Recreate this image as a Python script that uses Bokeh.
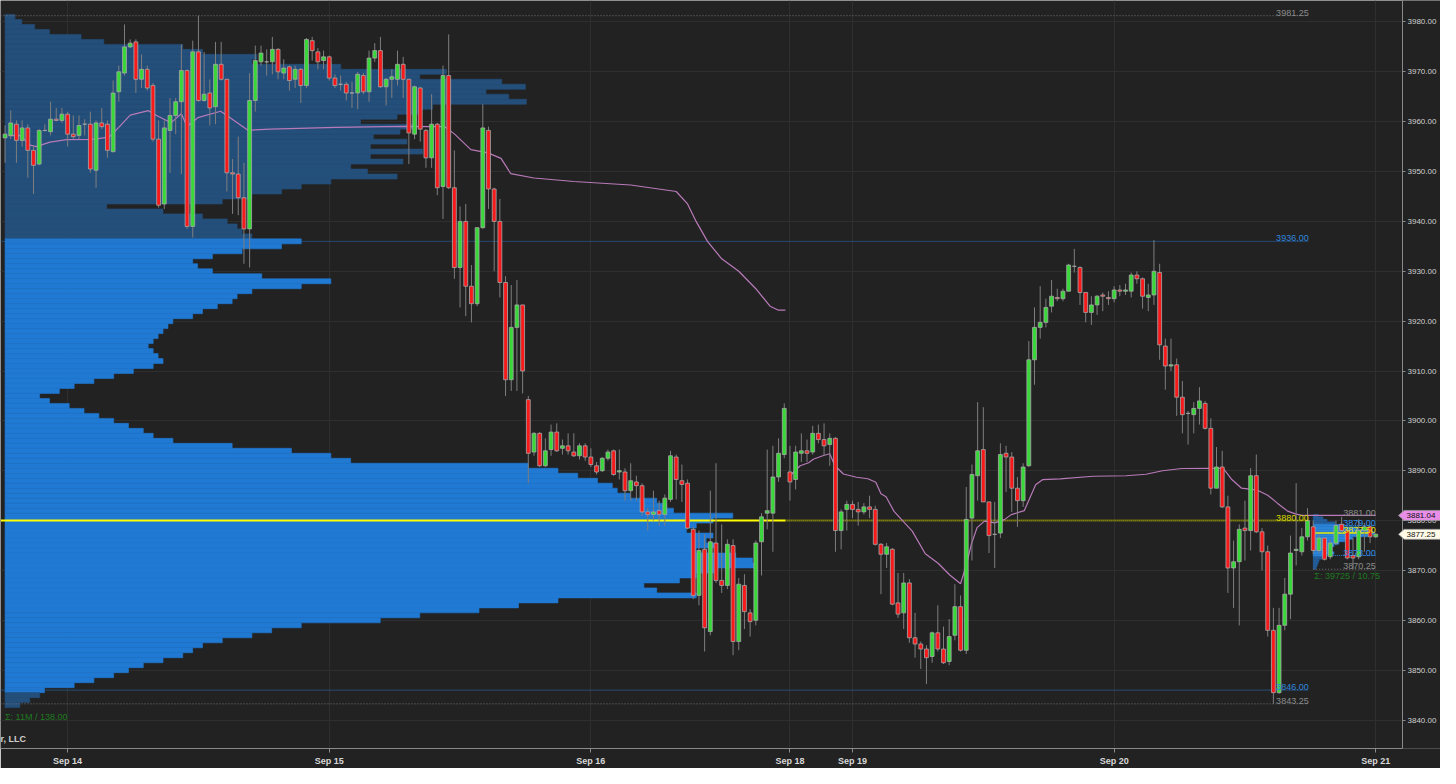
import numpy as np
from bokeh.plotting import figure
from bokeh.models import (ColumnDataSource, FixedTicker, SingleIntervalTicker,
                          NumeralTickFormatter, Range1d)
from bokeh.core.properties import value
from bokeh.embed import file_html
from bokeh.resources import INLINE

# ---------------- data (30-minute bars) ----------------
bar_open = [3956.75,3957.25,3959.5,3956.25,3958.75,3954.25,3951.5,3958.25,3958.0,3960.5,
 3960.25,3961.5,3957.5,3957.25,3959.5,3959.5,3950.25,3959.75,3959.5,3954.0,
 3966.0,3969.75,3975.0,3976.0,3968.5,3970.5,3967.25,3956.5,3943.5,3958.25,
 3961.25,3964.0,3970.25,3939.0,3974.0,3964.25,3965.75,3963.0,3971.5,3968.5,
 3949.75,3949.5,3944.75,3938.5,3964.25,3972.0,3972.0,3972.0,3974.5,3969.75,
 3971.0,3968.5,3970.5,3967.25,3976.25,3974.0,3972.25,3973.0,3968.75,3967.5,
 3967.5,3965.75,3965.75,3969.25,3966.0,3972.75,3974.25,3967.0,3968.5,3968.5,
 3971.5,3968.5,3957.5,3966.75,3958.25,3952.75,3959.5,3947.0,3969.25,3946.75,
 3930.75,3940.0,3927.0,3923.5,3938.75,3958.25,3946.5,3940.0,3927.75,3908.25,
 3918.75,3923.25,3904.25,3893.75,3897.5,3891.0,3894.25,3897.75,3894.5,3895.0,
 3893.75,3893.0,3895.0,3892.75,3891.0,3890.0,3892.5,3894.0,3889.75,3889.75,
 3886.0,3887.75,3887.0,3881.75,3881.25,3882.0,3881.25,3884.25,3892.75,3888.0,
 3887.5,3878.25,3865.0,3874.25,3857.75,3875.5,3868.0,3867.0,3875.0,3855.75,
 3867.0,3861.5,3860.0,3875.75,3881.5,3881.5,3888.75,3893.25,3889.75,3888.25,
 3893.5,3894.0,3893.75,3897.5,3896.25,3895.25,3896.5,3878.0,3882.25,3883.25,
 3882.25,3881.75,3882.75,3882.25,3875.25,3873.25,3874.25,3863.5,3861.5,3867.5,
 3856.5,3855.25,3854.25,3852.75,3857.5,3854.25,3851.75,3857.0,3862.75,3854.0,
 3880.5,3889.0,3894.25,3883.75,3877.25,3877.5,3893.5,3892.75,3886.5,3884.0,
 3891.0,3912.25,3918.75,3919.75,3923.0,3924.75,3924.5,3926.0,3931.0,3930.75,
 3925.75,3921.75,3923.25,3925.25,3924.75,3924.5,3926.25,3926.0,3926.0,3929.25,
 3928.5,3924.75,3925.25,3929.75,3915.0,3911.0,3911.25,3904.75,3901.5,3901.25,
 3902.5,3903.5,3898.5,3886.5,3890.75,3882.75,3870.5,3871.75,3878.5,3878.0,
 3889.0,3877.75,3873.75,3858.0,3845.5,3859.0,3865.25,3874.0,3873.75,3876.75,
 3878.75,3874.0,3876.5,3872.75,3875.5,3879.25,3878.0,3873.0,3872.75,3878.0,
 3878.75,3876.75]
bar_high = [3959.25,3962.25,3960.25,3960.25,3959.5,3955.25,3958.5,3959.5,3964.0,3962.75,
 3962.75,3962.0,3961.25,3961.25,3960.5,3962.0,3960.25,3962.75,3960.25,3968.25,
 3971.25,3979.5,3976.5,3976.5,3973.5,3971.25,3967.75,3960.25,3960.25,3964.75,
 3964.75,3975.5,3970.5,3976.25,3981.25,3974.0,3968.5,3976.0,3976.0,3968.5,
 3952.5,3957.0,3951.75,3969.75,3975.25,3975.25,3974.5,3977.0,3974.75,3972.5,
 3971.25,3971.25,3970.75,3976.75,3977.0,3974.75,3974.25,3973.25,3969.5,3969.25,
 3968.0,3968.0,3970.0,3969.75,3974.25,3975.75,3977.0,3968.75,3970.5,3974.25,
 3973.0,3968.5,3967.25,3967.0,3958.5,3965.5,3959.75,3971.25,3977.5,3954.25,
 3943.0,3943.5,3931.25,3938.75,3963.5,3959.0,3946.75,3944.5,3929.0,3927.25,
 3928.25,3923.25,3905.0,3897.75,3897.75,3896.5,3899.25,3899.5,3896.25,3897.5,
 3897.5,3895.5,3895.5,3894.5,3891.75,3892.75,3894.25,3894.25,3894.25,3890.5,
 3891.5,3889.0,3887.5,3882.5,3886.0,3884.0,3885.25,3894.0,3893.25,3891.25,
 3888.25,3878.75,3878.0,3877.25,3886.0,3891.5,3879.25,3876.25,3876.25,3868.5,
 3869.25,3862.25,3876.0,3881.5,3894.25,3895.0,3896.5,3903.5,3895.0,3895.0,
 3897.5,3896.25,3899.0,3899.25,3899.5,3897.5,3896.75,3882.25,3884.0,3884.0,
 3883.75,3883.5,3885.0,3883.0,3875.5,3875.5,3874.5,3869.5,3869.5,3868.25,
 3861.5,3855.75,3855.0,3857.75,3863.0,3858.75,3860.25,3867.25,3865.0,3886.75,
 3891.25,3903.75,3902.75,3883.75,3883.75,3895.5,3895.0,3893.75,3888.75,3891.5,
 3916.0,3922.75,3927.0,3924.5,3928.25,3926.5,3926.5,3931.5,3934.5,3931.0,
 3925.75,3925.0,3925.25,3925.75,3926.0,3927.0,3927.25,3927.5,3929.75,3930.0,
 3928.75,3927.5,3936.25,3931.5,3916.5,3916.5,3912.5,3908.0,3902.0,3903.75,
 3906.75,3904.0,3900.5,3894.75,3894.0,3885.0,3876.0,3879.25,3884.0,3890.5,
 3893.25,3878.5,3875.0,3862.5,3862.5,3868.5,3877.0,3887.5,3878.5,3882.5,
 3880.0,3877.25,3876.5,3876.25,3880.0,3880.75,3878.25,3876.5,3880.25,3879.5,
 3879.0,3877.5]
bar_low = [3951.75,3956.5,3951.75,3955.0,3948.75,3945.5,3951.25,3958.0,3957.25,3960.25,
 3959.75,3955.0,3956.5,3956.5,3957.25,3949.75,3946.75,3958.5,3952.75,3953.75,
 3964.0,3969.25,3974.75,3965.75,3966.75,3966.25,3956.0,3942.75,3942.5,3949.75,
 3957.5,3949.5,3938.5,3936.75,3964.0,3964.0,3959.25,3959.5,3968.25,3946.0,
 3941.5,3941.25,3931.5,3930.75,3962.0,3971.25,3969.25,3969.5,3968.5,3968.5,
 3966.25,3966.75,3963.75,3966.75,3972.25,3970.5,3970.5,3968.25,3966.75,3966.25,
 3964.25,3962.75,3962.5,3965.5,3964.0,3972.0,3966.75,3963.25,3964.75,3967.25,
 3964.75,3951.5,3956.5,3956.0,3950.75,3950.75,3945.25,3940.5,3946.5,3928.5,
 3922.75,3921.0,3919.75,3923.0,3938.5,3942.5,3930.0,3924.75,3905.0,3906.0,
 3906.0,3905.5,3887.5,3893.0,3890.75,3890.75,3893.0,3893.75,3893.25,3893.25,
 3892.75,3892.25,3892.0,3890.75,3889.25,3889.75,3892.0,3889.0,3888.25,3884.0,
 3884.0,3884.0,3881.0,3878.0,3880.0,3879.0,3879.0,3883.75,3884.25,3883.75,
 3878.25,3864.25,3863.0,3853.75,3857.0,3867.5,3865.5,3866.25,3853.0,3854.0,
 3858.25,3856.75,3859.0,3869.0,3878.25,3873.75,3887.75,3892.5,3884.0,3886.25,
 3891.75,3891.75,3893.25,3895.5,3893.0,3891.0,3873.75,3874.25,3878.0,3880.5,
 3879.0,3881.25,3880.5,3875.0,3865.25,3870.5,3863.0,3860.5,3858.25,3855.5,
 3852.5,3850.25,3847.25,3851.5,3853.75,3851.25,3851.0,3856.0,3853.75,3853.25,
 3872.0,3884.0,3883.75,3873.5,3870.5,3876.5,3885.75,3881.75,3878.75,3882.75,
 3890.75,3907.25,3916.5,3918.75,3921.75,3924.0,3924.0,3926.0,3929.75,3923.25,
 3919.75,3919.25,3921.25,3922.0,3923.25,3923.75,3925.0,3925.25,3924.75,3927.5,
 3922.5,3922.0,3923.25,3912.25,3906.25,3910.0,3901.0,3897.5,3895.25,3897.5,
 3899.25,3898.25,3885.25,3886.5,3882.5,3865.5,3862.5,3859.0,3872.0,3874.0,
 3877.5,3870.0,3856.75,3843.25,3845.25,3858.0,3860.25,3871.0,3873.0,3876.0,
 3873.25,3873.5,3872.0,3872.25,3875.0,3877.5,3872.25,3870.25,3872.25,3873.75,
 3875.5,3876.5]
bar_close = [3957.5,3959.75,3956.25,3958.75,3954.25,3951.25,3958.25,3958.25,3960.5,3960.25,
 3961.5,3957.5,3957.0,3959.25,3959.5,3950.5,3959.75,3959.0,3954.25,3965.75,
 3970.0,3975.0,3975.75,3968.5,3970.5,3966.75,3956.5,3943.25,3958.75,3961.25,
 3964.0,3970.25,3939.0,3974.0,3964.25,3965.5,3962.75,3971.5,3968.5,3949.75,
 3949.5,3944.75,3938.5,3964.25,3972.25,3973.75,3972.0,3974.5,3970.0,3970.75,
 3968.25,3970.5,3967.25,3976.5,3974.25,3972.0,3973.0,3968.75,3967.25,3967.5,
 3965.75,3965.75,3969.5,3966.0,3972.75,3974.25,3967.0,3968.5,3969.0,3971.5,
 3968.5,3957.75,3967.0,3958.5,3952.75,3959.5,3946.75,3969.25,3946.75,3930.75,
 3940.0,3927.0,3923.5,3938.75,3958.75,3946.5,3940.0,3927.75,3908.25,3918.75,
 3923.25,3910.0,3893.5,3897.5,3891.0,3894.0,3897.75,3894.0,3895.0,3894.0,
 3893.0,3895.0,3892.75,3891.25,3889.75,3892.5,3893.75,3889.25,3890.0,3886.0,
 3888.0,3887.0,3881.75,3881.25,3881.75,3881.25,3884.5,3893.0,3888.25,3887.25,
 3878.5,3865.0,3874.0,3858.5,3875.75,3868.0,3867.0,3875.25,3855.75,3867.25,
 3861.75,3859.75,3875.5,3880.75,3882.0,3888.75,3893.5,3902.5,3887.75,3893.75,
 3894.0,3893.5,3897.5,3896.25,3895.0,3896.5,3878.0,3881.75,3883.25,3882.25,
 3881.75,3882.75,3882.25,3875.25,3873.25,3874.75,3863.25,3861.25,3867.5,3856.5,
 3855.25,3854.25,3852.5,3857.5,3854.25,3851.5,3856.75,3862.75,3854.0,3880.25,
 3889.25,3894.0,3883.75,3877.0,3877.25,3893.25,3892.75,3886.5,3884.0,3890.75,
 3912.25,3918.75,3919.75,3922.75,3925.0,3924.5,3926.0,3931.25,3931.0,3925.75,
 3921.75,3923.25,3925.0,3925.0,3924.5,3926.25,3926.0,3926.25,3929.25,3928.5,
 3925.0,3925.25,3930.0,3915.25,3911.0,3911.25,3904.75,3901.25,3901.5,3902.5,
 3904.0,3898.5,3886.5,3890.75,3882.75,3870.5,3871.75,3878.25,3878.0,3889.0,
 3877.75,3873.75,3858.0,3845.5,3859.0,3865.25,3873.5,3874.25,3876.75,3880.0,
 3874.0,3876.5,3872.25,3875.5,3879.0,3878.0,3872.5,3872.5,3878.0,3878.75,
 3876.75,3877.25]

date_tick_bars = [11, 57, 103, 138, 149, 195, 241]
date_tick_labels = ["Sep 14", "Sep 15", "Sep 16", "Sep 18", "Sep 19", "Sep 20", "Sep 21"]

# composite volume profile (price level -> relative volume)
profile_prices = list(range(3981, 3842, -1))
profile_volume = [10,17,30,45,77,100,180,200,255,250,340,447,420,503,527,487,510,528,433,420,
 397,360,413,400,373,407,370,423,370,403,350,367,397,330,300,280,250,220,103,160,
 200,225,235,240,250,
 300,280,240,210,190,195,210,260,330,300,250,235,230,215,200,190,170,165,160,155,
 150,145,150,155,160,150,130,110,90,70,55,35,45,65,80,95,110,125,140,150,
 170,230,290,330,350,530,560,580,600,615,620,633,660,670,677,737,717,700,690,717,
 710,720,700,740,757,760,720,700,683,647,660,700,560,520,480,420,380,300,270,250,
 220,200,190,180,160,140,125,110,90,70,40,35,25,15]
value_area_high = 3936.00
value_area_low = 3846.00
poc_price = 3880.00
range_high = 3981.25
range_low = 3843.25

# current session profile
sess_prices = [3881.0,3880.5,3880.0,3879.5,3879.0,3878.5,3878.0,3877.5,3877.0,3876.5,3876.0,
 3875.5,3875.0,3874.5,3874.0,3873.5,3873.0,3872.5,3872.0,3871.5,3871.0,3870.5]
sess_volume = [5,10,14,22,30,45,58,62,55,40,32,26,21,18,19,21,14,9,6,5,4,3]
sess_high = 3881.00
sess_vah = 3879.00
sess_poc = 3877.50
sess_val = 3873.00
sess_low = 3870.25

# VWAP lines
vwap1_bar = [0.6,2.7,4.4,5.5,7.9,10.8,15.4,18.3,20,22,25.2,26.9,29.2,31,32,33.9,37.9,40.2,42.7,46.6,
 58.2,69.8,77.3,79,81.9,84.9,87.2,88.9,93,100,110,118,120,121.5,123.5,126,129,132,134.5,136,137.2]
vwap1_val = [3957.2,3957.2,3955.3,3955.0,3955.9,3956.4,3956.45,3956.9,3958.85,3961.3,3962.2,3961.1,
 3959.8,3961.6,3959.05,3960.8,3962.1,3960.3,3958.3,3958.5,3958.85,3959.05,3959.0,3957.55,3954.4,
 3953.75,3952.65,3949.6,3948.7,3948.0,3947.3,3946.0,3943.5,3940.0,3936.0,3932.5,3930.0,3926.5,
 3923.0,3922.2,3922.2]
vwap2_bar = [138,139.8,141.3,142.1,143.9,145,145.9,147.4,149.7,151.7,153.1,154,154.9,156.3,159.5,
 161.8,164.1,166.1,168,169,169.9,170.9,172.2,174,175.7,176.9,179.2,181.2,182.4,185.5,191.3,197.1,
 200.6,203.5,206.9,212.2,214.2,215.6,217.4,220.2,222,223.7,225.5,227,228,241]
vwap2_val = [3889.0,3891.0,3891.6,3892.3,3893.05,3893.4,3891.0,3889.35,3888.7,3888.4,3887.7,3885.4,
 3884.8,3881.85,3877.9,3873.35,3871.4,3869.1,3867.35,3871.05,3875.3,3878.6,3879.9,3879.55,3880.2,
 3881.2,3882.0,3887.2,3888.2,3888.35,3888.9,3889.0,3889.3,3890.0,3890.45,3890.5,3890.45,3888.35,
 3886.5,3886.1,3885.1,3883.5,3881.9,3881.3,3881.04,3881.04]
vwap_last = 3881.04
last_price = 3877.25

# ---------------- figure ----------------
BG = "#222222"
FONT = "Liberation Sans"
GREEN = "#38d838"
RED = "#f81a1a"

W, H = 1440, 768
x_lo, x_axis = -0.8, 245.7                      # visible bar span up to the price axis
axis_frac = 1402 / W                             # price axis position as fraction of width
x_end = x_lo + (x_axis - x_lo) / axis_frac
y_lo, y_hi = 3834.3, 3984.3

p = figure(width=W, height=H, output_backend="svg", toolbar_location=None,
           x_range=Range1d(x_lo, x_end), y_range=Range1d(y_lo, y_hi),
           y_axis_location="right", min_border_left=0, min_border_top=0,
           min_border_right=0, min_border_bottom=18)
p.background_fill_color = BG
p.border_fill_color = BG
p.outline_line_color = None

# axes
p.xaxis.ticker = FixedTicker(ticks=date_tick_bars)
p.xaxis.major_label_overrides = {t: l for t, l in zip(date_tick_bars, date_tick_labels)}
p.xaxis.bounds = (x_lo, x_axis)
p.xaxis.axis_line_color = "#8a8a8a"
p.xaxis.major_tick_line_color = "#8a8a8a"
p.xaxis.major_tick_out = 4
p.xaxis.major_tick_in = 0
p.xaxis.minor_tick_line_color = None
p.xaxis.major_label_text_color = "#d8d8d8"
p.xaxis.major_label_text_font = FONT
p.xaxis.major_label_text_font_size = "9px"
p.xaxis.major_label_text_font_style = "bold"
p.xaxis.major_label_standoff = 3

p.yaxis.fixed_location = x_axis
p.yaxis.ticker = SingleIntervalTicker(interval=10)
p.yaxis.formatter = NumeralTickFormatter(format="0.00")
p.yaxis.axis_line_color = "#8a8a8a"
p.yaxis.major_tick_line_color = "#8a8a8a"
p.yaxis.major_tick_out = 3
p.yaxis.major_tick_in = 0
p.yaxis.minor_tick_line_color = None
p.yaxis.major_label_text_color = "#d0d0d0"
p.yaxis.major_label_text_font = FONT
p.yaxis.major_label_text_font_size = "8px"
p.yaxis.major_label_standoff = 1

p.xgrid.ticker = FixedTicker(ticks=date_tick_bars)
p.xgrid.grid_line_color = "#2f2f2f"
p.ygrid.grid_line_color = "#2f2f2f"

# blank strip behind the price axis (hides grid lines there)
p.quad(left=[x_axis], right=[x_end], bottom=[y_lo], top=[y_hi], fill_color=BG, line_color=None)

# composite profile
vol_to_bars = 1 / 5.76
pp = np.array(profile_prices, dtype=float)
pv = np.array(profile_volume, dtype=float) * vol_to_bars
in_va = (pp >= value_area_low) & (pp <= value_area_high)
pcol = np.where(in_va, "#2079d2", "#244f7b").tolist()
p.hbar(y=pp, left=0, right=pv, height=1.0, fill_color=pcol, line_color=pcol, line_width=0.6)

# session profile
sp = np.array(sess_prices)
sv = np.array(sess_volume, dtype=float) * vol_to_bars
s_in = (sp >= sess_val) & (sp <= sess_vah)
scol = np.where(s_in, "#2b86dc", "#245f9c").tolist()
p.hbar(y=sp, left=230, right=230 + sv, height=0.5, fill_color=scol, line_color=scol, line_width=0.5)

# key levels
lvl_end = 229.2
p.line([x_lo, lvl_end], [range_high] * 2, line_color="#777777", line_dash="1 2", line_width=1)
p.line([x_lo, lvl_end], [value_area_high] * 2, line_color="#2a70c0", line_dash="1 1", line_width=1)
p.line([x_lo, lvl_end], [value_area_low] * 2, line_color="#2a70c0", line_dash="1 1", line_width=1)
p.line([x_lo, lvl_end], [range_low] * 2, line_color="#777777", line_dash="1 2", line_width=1)
p.line([x_lo, 137.2], [poc_price] * 2, line_color="#ffff00", line_width=2)
p.line([137.2, lvl_end], [poc_price] * 2, line_color="#b0b000", line_dash="1 1", line_width=2)

s_end = 241
p.line([230, s_end], [sess_high] * 2, line_color="#777777", line_dash="1 2")
p.line([230, s_end], [sess_vah] * 2, line_color="#2a80d8", line_dash="1 1")
p.line([230, s_end], [sess_val] * 2, line_color="#2a80d8", line_dash="1 1")
p.line([230, s_end], [sess_low] * 2, line_color="#777777", line_dash="1 2")
p.line([230, 240], [sess_poc] * 2, line_color="#e8e800", line_width=1.5)

# VWAP
p.line(vwap1_bar, vwap1_val, line_color="#b87ab8", line_width=1.2)
p.line(vwap2_bar, vwap2_val, line_color="#b87ab8", line_width=1.2)

# candles
k = np.arange(len(bar_open))
o = np.array(bar_open); c = np.array(bar_close)
h = np.array(bar_high); l = np.array(bar_low)
cols = np.where(c > o, GREEN, np.where(c < o, RED, "#9a9a9a")).tolist()
src = ColumnDataSource(dict(k=k, o=o, c=c, h=h, l=l, top=np.maximum(o, c),
                            bot=np.minimum(o, c), col=cols))
p.segment(x0="k", y0="l", x1="k", y1="h", source=src, line_color="#7e7e7e", line_width=1)
p.vbar(x="k", top="top", bottom="bot", width=0.68, source=src,
       fill_color="col", line_color="#a8a8a8", line_width=0.8)

# level labels
def lab(x, y, t, col, align="right"):
    p.text(x=[x], y=[y], text=[t], text_font=value(FONT), text_font_size=value("9px"),
           text_color=col, text_align=align, text_baseline="bottom")

lab(lvl_end, range_high, f"{range_high:.2f}", "#8c8c8c")
lab(lvl_end, value_area_high, f"{value_area_high:.2f}", "#2f86de")
lab(lvl_end, poc_price, f"{poc_price:.2f}", "#d6d600")
lab(lvl_end, value_area_low, f"{value_area_low:.2f}", "#2f86de")
lab(lvl_end, range_low, f"{range_low:.2f}", "#8c8c8c")
lab(s_end, sess_high, f"{sess_high:.2f}", "#8c8c8c")
lab(s_end, sess_vah, f"{sess_vah:.2f}", "#2f8ce8")
lab(s_end, sess_poc, f"{sess_poc:.2f}", "#e0e000")
lab(s_end, sess_val, f"{sess_val:.2f}", "#2f8ce8")
lab(s_end, sess_low, f"{sess_low:.2f}", "#8c8c8c")
lab(230.2, 3867.9, "\u03a3: 39725 / 10.75", "#1f7a1f", "left")
lab(0.0, 3839.7, "\u03a3: 11M / 138.00", "#1f7a1f", "left")
p.text(x=[x_lo], y=[3835.2], text=["r, LLC"], text_font=value(FONT),
       text_font_size=value("9px"), text_font_style="bold", text_color="#d0d0d0",
       text_align="left", text_baseline="bottom")

# price tags on the axis (drawn above the axis labels)
tag_vals = [vwap_last, last_price]
tag_cols = ["#e88ee8", "#fffbe6"]
half = 1.0
tip = x_axis - 0.7
shoulder = x_axis + 0.3
tags = p.patches(xs=[[tip, shoulder, x_end, x_end, shoulder] for _ in tag_vals],
                 ys=[[v, v + half, v + half, v - half, v - half] for v in tag_vals],
                 fill_color=tag_cols, line_color="#9a9a9a", line_width=0.8)
tags.level = "overlay"
tag_txt = p.text(x=[x_axis + 0.7] * 2, y=tag_vals, text=[f"{v:.2f}" for v in tag_vals],
                 text_font=value(FONT), text_font_size=value("8px"), text_color="#111111",
                 text_align="left", text_baseline="middle")
tag_txt.level = "overlay"

open("out.html", "w").write(file_html(p, INLINE))
